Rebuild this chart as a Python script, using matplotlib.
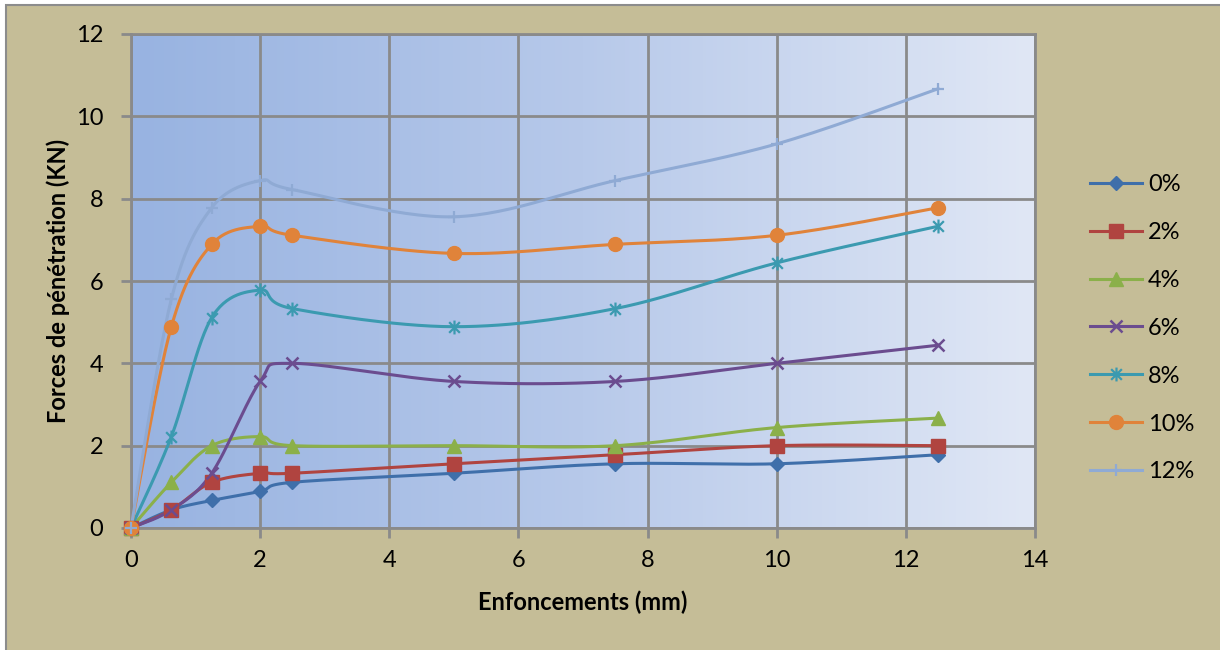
import numpy as np
import matplotlib
matplotlib.use("Agg")
import matplotlib.pyplot as plt
from matplotlib.path import Path
from matplotlib.lines import Line2D
from matplotlib.patches import Rectangle
from matplotlib.colors import LinearSegmentedColormap

# ---------------- data ----------------
x_mm = [0, 0.625, 1.25, 2, 2.5, 5, 7.5, 10, 12.5]
series_labels = ["0%", "2%", "4%", "6%", "8%", "10%", "12%"]
s0 = [0, 0.44, 0.67, 0.89, 1.11, 1.33, 1.56, 1.56, 1.78]
s2 = [0, 0.44, 1.11, 1.33, 1.33, 1.56, 1.78, 2.00, 2.00]
s4 = [0, 1.11, 2.00, 2.22, 2.00, 2.00, 2.00, 2.44, 2.67]
s6 = [0, 0.44, 1.33, 3.56, 4.00, 3.56, 3.56, 4.00, 4.44]
s8 = [0, 2.22, 5.11, 5.78, 5.33, 4.89, 5.33, 6.44, 7.33]
s10 = [0, 4.89, 6.89, 7.33, 7.11, 6.67, 6.89, 7.11, 7.78]
s12 = [0, 5.56, 7.78, 8.44, 8.22, 7.56, 8.44, 9.33, 10.67]
series = [s0, s2, s4, s6, s8, s10, s12]
xticks = [0, 2, 4, 6, 8, 10, 12, 14]
yticks = [0, 2, 4, 6, 8, 10, 12]

# ---------------- style ----------------
colors = ["#3F6FAA", "#B04440", "#8BB04A", "#6B4C8F", "#3B9AB0", "#E0833A", "#8FAAD4"]
star = Path([(-1, -1), (1, 1), (-1, 1), (1, -1), (0, -1.3), (0, 1.3)],
            [Path.MOVETO, Path.LINETO, Path.MOVETO, Path.LINETO, Path.MOVETO, Path.LINETO])
markers = ["D", "s", "^", "x", star, "o", "+"]
msizes = [7.5, 9.5, 9.5, 9, 10, 10, 9]
edgew = [1, 1, 1, 1.8, 1.6, 1, 1.6]
filled = [True, True, True, False, False, True, False]

FONT = "Lato"
FS = 17
plt.rcParams["font.family"] = [FONT, "DejaVu Sans"]

def smooth(xs, ys, n=30):
    P = np.column_stack([xs, ys]).astype(float)
    Pext = np.vstack([P[0], P, P[-1]])
    out = []
    t = np.linspace(0, 1, n)[:, None]
    for i in range(len(P) - 1):
        p0, p1, p2, p3 = Pext[i], Pext[i + 1], Pext[i + 2], Pext[i + 3]
        c1 = p1 + (p2 - p0) / 6.0
        c2 = p2 - (p3 - p1) / 6.0
        seg = ((1 - t) ** 3) * p1 + 3 * ((1 - t) ** 2) * t * c1 + 3 * (1 - t) * t ** 2 * c2 + t ** 3 * p2
        out.append(seg if i == 0 else seg[1:])
    out = np.vstack(out)
    return out[:, 0], out[:, 1]

fig = plt.figure(figsize=(12.2, 6.5), dpi=100, facecolor="white")
fig.patches.append(Rectangle((6 / 1220, -0.1), 2, 1 - 5 / 650 + 0.1, transform=fig.transFigure,
                             facecolor="#C5BD97", edgecolor="#8C8C8C", linewidth=1.5, zorder=-10))

ax = fig.add_axes([131 / 1220, 1 - 528 / 650, (1035 - 131) / 1220, (528 - 34) / 650])
ax.set_facecolor("none")
cmap = LinearSegmentedColormap.from_list("bg", ["#98B3E1", "#B7C9EA", "#E0E7F5"])
grad = np.linspace(0, 1, 256)[None, :]
ax.imshow(grad, cmap=cmap, extent=[0, 14, 0, 12], aspect="auto", zorder=0, interpolation="bicubic")

ax.set_xlim(0, 14)
ax.set_ylim(0, 12)
ax.set_xticks(xticks)
ax.set_yticks(yticks)
ax.grid(True, color="#8A8A8A", linewidth=2, zorder=1)
for sp in ax.spines.values():
    sp.set_color("#8A8A8A")
    sp.set_linewidth(2)
    sp.set_zorder(1)
ax.tick_params(axis="both", colors="#8A8A8A", width=2, length=7, labelsize=FS, labelcolor="black")
ax.tick_params(axis="x", pad=9)
ax.tick_params(axis="y", pad=13)

handles = []
for ys, lab, c, m, ms, ew, f in zip(series, series_labels, colors, markers, msizes, edgew, filled):
    sx, sy = smooth(x_mm, ys)
    ax.plot(sx, sy, color=c, linewidth=2.2, zorder=3, clip_on=False)
    kw = dict(marker=m, markersize=ms, linestyle="none", zorder=4, clip_on=False)
    if f:
        kw.update(markerfacecolor=c, markeredgecolor=c, markeredgewidth=ew)
    else:
        kw.update(markeredgecolor=c, markeredgewidth=ew, markerfacecolor="none")
    ax.plot(x_mm, ys, **kw)
    hk = dict(kw)
    hk.pop("zorder"); hk.pop("clip_on"); hk.pop("linestyle")
    handles.append(Line2D([0], [0], color=c, linewidth=2.2, label=lab, **hk))

ax.set_xlabel("Enfoncements (mm)", fontsize=FS, fontweight="bold", va="center")
ax.xaxis.set_label_coords(0.5, (528 - 602) / 494)
ax.set_ylabel("Forces de pénétration (KN)", fontsize=FS, fontweight="bold", va="center")
ax.yaxis.set_label_coords((58 - 131) / 904, 0.5)

leg = fig.legend(handles=handles, loc="upper left", bbox_to_anchor=(1090 / 1220, 1 - 174 / 650),
                 frameon=False, fontsize=FS, handlelength=2.2, labelspacing=1.14,
                 handletextpad=0.25, borderaxespad=0, borderpad=0)

fig.savefig("out.png", dpi=100, facecolor=fig.get_facecolor())
